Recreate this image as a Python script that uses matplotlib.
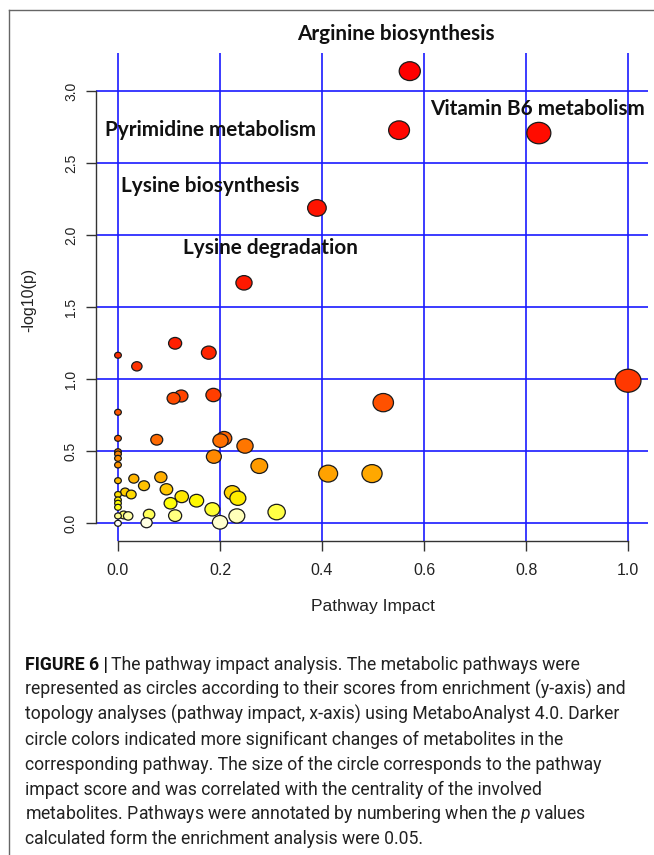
import numpy as np
import matplotlib
matplotlib.use("Agg")
import matplotlib.pyplot as plt
from matplotlib.path import Path
from matplotlib.transforms import Affine2D
from matplotlib.lines import Line2D
from matplotlib import font_manager
import colorsys

# ---------------- data ----------------
impact = [0.572, 0.551, 0.825, 0.390, 0.247, 0.112, 0.178, 0.000, 0.037, 1.000,
          0.187, 0.124, 0.109, 0.520, 0.000, 0.000, 0.208, 0.076, 0.201, 0.249,
          0.000, 0.000, 0.188, 0.000, 0.000, 0.277, 0.412, 0.498, 0.084, 0.031,
          0.000, 0.051, 0.095, 0.014, 0.224, 0.026, 0.000, 0.125, 0.235, 0.000,
          0.154, 0.000, 0.103, 0.000, 0.185, 0.311, 0.061, 0.011, 0.112, 0.000,
          0.020, 0.233, 0.200, 0.056, 0.000]
neglogp = [3.14, 2.73, 2.71, 2.19, 1.67, 1.25, 1.185, 1.167, 1.09, 0.99,
           0.891, 0.884, 0.868, 0.838, 0.771, 0.59, 0.59, 0.58, 0.574, 0.537,
           0.497, 0.481, 0.463, 0.451, 0.405, 0.398, 0.345, 0.345, 0.32, 0.31,
           0.296, 0.261, 0.236, 0.217, 0.213, 0.20, 0.20, 0.185, 0.174, 0.162,
           0.157, 0.139, 0.139, 0.111, 0.097, 0.078, 0.062, 0.058, 0.053, 0.051,
           0.051, 0.051, 0.007, 0.004, 0.0]

label_names = ["Arginine biosynthesis", "Vitamin B6 metabolism",
               "Pyrimidine metabolism", "Lysine biosynthesis", "Lysine degradation"]
label_x = [0.545, 0.823, 0.182, 0.181, 0.299]
label_y = [3.396, 2.875, 2.73, 2.342, 1.91]

x_ticks = [0.0, 0.2, 0.4, 0.6, 0.8, 1.0]
x_tick_labels = ["0.0", "0.2", "0.4", "0.6", "0.8", "1.0"]
y_ticks = [0.0, 0.5, 1.0, 1.5, 2.0, 2.5, 3.0]
y_tick_labels = ["0.0", "0.5", "1.0", "1.5", "2.0", "2.5", "3.0"]

caption_lines = [
    "The pathway impact analysis. The metabolic pathways were",
    "represented as circles according to their scores from enrichment (y-axis) and",
    "topology analyses (pathway impact, x-axis) using MetaboAnalyst 4.0. Darker",
    "circle colors indicated more significant changes of metabolites in the",
    "corresponding pathway. The size of the circle corresponds to the pathway",
    "impact score and was correlated with the centrality of the involved",
    "metabolites. Pathways were annotated by numbering when the $\\mathit{p}$ values",
    "calculated form the enrichment analysis were 0.05.",
]

# ---------------- helpers ----------------
def heat_colors(n):
    j = n // 4
    i = n - j
    cols = []
    for h in np.linspace(0, 1 / 6, i):
        cols.append(colorsys.hsv_to_rgb(h, 1, 1))
    if j > 0:
        for s in np.linspace(1 - 1 / (2 * j), 1 / (2 * j), j):
            cols.append(colorsys.hsv_to_rgb(1 / 6, s, 1))
    return cols

available = {f.name for f in font_manager.fontManager.ttflist}
cap_family = "Liberation Sans Narrow" if "Liberation Sans Narrow" in available else "Roboto"

W, H, DPI = 654, 855, 100
plt.rcParams["mathtext.fontset"] = "custom"
plt.rcParams["mathtext.it"] = cap_family + ":italic"
plt.rcParams["mathtext.rm"] = cap_family

fig = plt.figure(figsize=(W / DPI, H / DPI), dpi=DPI)
fig.patch.set_facecolor("white")

left_px, right_px, top_px, bot_px = 96, 648, 53, 541
ax = fig.add_axes([left_px / W, 1 - bot_px / H, (right_px - left_px) / W, (bot_px - top_px) / H])
ax.set_xlim(-0.0431, 1.039)
ax.set_ylim(-0.123, 3.266)

x = np.array(impact)
y = np.array(neglogp)
order = np.argsort(-y, kind="stable")
cols = heat_colors(len(y))
colors = [None] * len(y)
for rank, idx in enumerate(order):
    colors[idx] = cols[rank]

aspect = 1.12
circ = Path.unit_circle()
ell = Path(Affine2D().scale(aspect, 1.0).transform(circ.vertices), circ.codes)
width_px = aspect * (6 + 17 * np.sqrt(x))
sizes = (width_px * 72 / DPI) ** 2

ax.scatter(x[order], y[order], s=sizes[order], c=[colors[i] for i in order],
           marker=ell, edgecolors="#1a1a1a", linewidths=0.9, zorder=3, clip_on=False)

ax.set_xticks(x_ticks)
ax.set_xticklabels(x_tick_labels)
ax.set_yticks(y_ticks)
ax.set_yticklabels(y_tick_labels, rotation=90, va="center")
ax.grid(True, color="#1a1aff", lw=1.2)
ax.set_axisbelow(True)
for s in ["top", "right"]:
    ax.spines[s].set_visible(False)
ax.spines["left"].set_bounds(0, 3)
ax.spines["bottom"].set_bounds(0, 1)
for s in ["left", "bottom"]:
    ax.spines[s].set_color("#333333")
    ax.spines[s].set_linewidth(1.0)
ax.tick_params(axis="both", length=7, width=1.0, color="#333333", labelcolor="#222222")
ax.tick_params(axis="x", pad=8.5, labelsize=11.5)
ax.tick_params(axis="y", pad=6, labelsize=10)
for lab in ax.get_xticklabels() + ax.get_yticklabels():
    lab.set_family("Liberation Sans")

renderer = fig.canvas.get_renderer()

# pathway labels, fitted to the reference width
probe = fig.text(0, 0, "Pyrimidine metabolism", fontsize=10, fontweight="bold", family="Lato")
wp = probe.get_window_extent(renderer).width
probe.remove()
lab_fs = 10 * 212 / wp
for name, lx, ly in zip(label_names, label_x, label_y):
    ax.text(lx, ly, name, ha="center", va="center", fontsize=lab_fs, fontweight="bold",
            family="Lato", color="#111111", clip_on=False, zorder=5)

fig.text(29 / W, 1 - 300 / H, "-log10(p)", rotation=90, ha="center", va="center",
         fontsize=11.5, family="Liberation Sans", color="#222222")
fig.text(373 / W, 1 - 607 / H, "Pathway Impact", ha="center", va="center",
         fontsize=12.5, family="Liberation Sans", color="#222222")

# frame lines
fig.add_artist(Line2D([9 / W, 1], [1 - 10 / H] * 2, transform=fig.transFigure, color="#666666", lw=1))
fig.add_artist(Line2D([9 / W, 9 / W], [0, 1 - 10 / H], transform=fig.transFigure, color="#666666", lw=1))

# caption
probe = fig.text(0, 0, caption_lines[1], fontsize=10, family=cap_family)
wc = probe.get_window_extent(renderer).width
probe.remove()
cap_fs = 10 * 602 / wc
cap_left = 25
baselines = [670 + 24.9 * k for k in range(len(caption_lines))]
bold = fig.text(cap_left / W, 1 - baselines[0] / H, "FIGURE 6 |", fontsize=cap_fs,
                family=cap_family, fontweight="bold", va="baseline", color="#111111")
bw = bold.get_window_extent(renderer).width
for k, line in enumerate(caption_lines):
    xpos = cap_left + (bw + 3 if k == 0 else 0)
    fig.text(xpos / W, 1 - baselines[k] / H, line, fontsize=cap_fs, family=cap_family,
             va="baseline", color="#222222")

fig.savefig("out.png", dpi=DPI, facecolor="white")
